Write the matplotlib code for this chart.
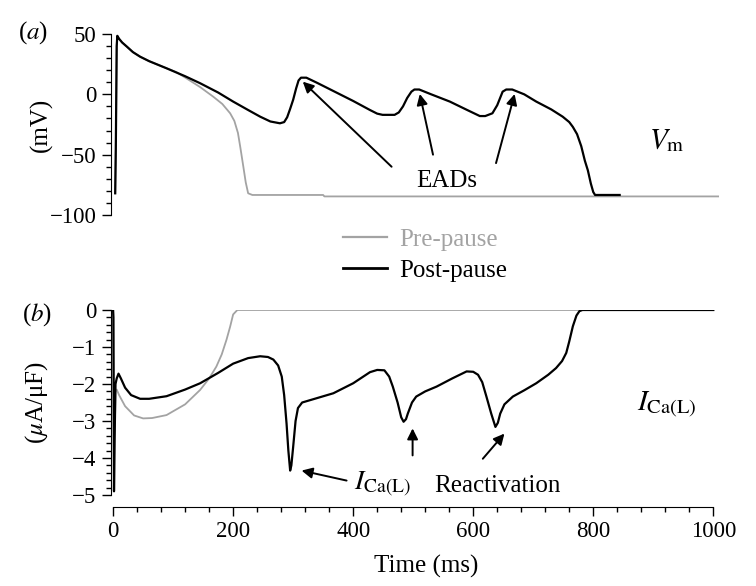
import matplotlib
matplotlib.use("Agg")
import matplotlib.pyplot as plt
from matplotlib.ticker import MultipleLocator
from matplotlib.lines import Line2D

plt.rcParams['font.family'] = ['Liberation Serif', 'DejaVu Serif']
plt.rcParams['mathtext.fontset'] = 'stix'

# membrane potential (mV)
t_vm_post = [3.5, 4.5, 6, 7, 10, 15, 23, 33, 45, 60, 89, 120, 145, 175, 200, 225, 245,
             262, 278, 285, 290, 295, 300, 305, 309, 313, 322, 340, 370, 400, 428, 440,
             449, 469, 476, 483, 490, 497, 502, 510, 530, 561, 590, 611, 620, 632, 640,
             649, 655, 665, 685, 705, 730, 749, 760, 766, 773, 780, 786, 791, 796, 800,
             803, 844]
vm_post = [-82, -45, 40, 48.5, 46, 43, 39.5, 35, 31.2, 27.5, 21.6, 15, 9.2, 1.5, -6, -13,
           -18.5, -22.5, -24, -23, -19, -12, -4.5, 5, 11.5, 13.8, 13.8, 9.5, 2, -5.5, -13,
           -16, -17, -17, -15, -10, -3, 2.2, 4, 4, 0, -6, -13, -18, -18, -15.7, -9, 2.2, 4,
           4, 0, -6, -12.5, -18.5, -23, -27, -33, -43, -55, -63, -74, -81, -83.4, -83.4]

t_vm_pre = [3.5, 4.5, 6, 7, 10, 15, 23, 33, 45, 60, 89, 105, 122, 145, 167, 182, 195,
            202, 208, 212, 217, 221, 225, 232, 350, 352, 1008]
vm_pre = [-82, -45, 40, 48.5, 46, 43, 39.5, 35, 31.2, 27.5, 21.6, 18.5, 13.3, 6, -2, -8,
          -15.7, -22, -32, -44, -60, -73, -82, -83.4, -83.4, -84.6, -84.6]

# L-type Ca current (uA/uF)
t_ica_post = [0, 0.5, 1.5, 2.5, 4, 6, 9, 13, 20, 30, 45, 60, 89, 120, 145, 175, 200, 225,
              245, 258, 267, 275, 281, 285, 289, 292, 295, 297, 300, 304, 308, 315, 340,
              367, 400, 428, 440, 452, 460, 466, 474, 480, 484, 488, 491, 498, 505, 520,
              539, 565, 589, 600, 608, 615, 622, 630, 637, 641, 645, 652, 666, 685, 705,
              725, 738, 748, 755, 760, 766, 772, 777, 782, 1000]
ica_post = [0, -0.2, -4.9, -3.5, -2.0, -1.85, -1.72, -1.85, -2.1, -2.3, -2.4, -2.4, -2.33,
            -2.15, -1.98, -1.7, -1.45, -1.3, -1.25, -1.27, -1.34, -1.5, -1.8, -2.3, -3.07,
            -3.8, -4.34, -4.2, -3.7, -3.0, -2.65, -2.5, -2.38, -2.25, -1.98, -1.68, -1.62,
            -1.63, -1.8, -2.07, -2.5, -2.9, -3.02, -2.95, -2.8, -2.5, -2.34, -2.2, -2.07,
            -1.85, -1.66, -1.67, -1.75, -1.95, -2.34, -2.8, -3.16, -3.05, -2.8, -2.55,
            -2.34, -2.17, -1.98, -1.75, -1.57, -1.38, -1.16, -0.85, -0.44, -0.15, -0.03,
            0, 0]

t_ica_pre = [0, 0.5, 1.5, 2.5, 4, 6, 10, 20, 35, 50, 65, 89, 120, 145, 160, 172, 181, 189,
             195, 200, 207, 1000]
ica_pre = [0, -0.2, -4.9, -3.5, -2.2, -2.15, -2.3, -2.6, -2.85, -2.93, -2.92, -2.84, -2.55,
           -2.16, -1.85, -1.53, -1.2, -0.8, -0.45, -0.12, 0, 0]

gray = '#a3a3a3'
W, H = 756, 586

fig = plt.figure(figsize=(7.56, 5.86), dpi=100)
left = 111 / W
width = (720.5 - 111) / W
ax1 = fig.add_axes([left, 1 - 215 / H, width, (215 - 34) / H])
ax2 = fig.add_axes([left, 1 - 495 / H, width, (495 - 310) / H])

# panel a
ax1.plot(t_vm_pre, vm_pre, color=gray, lw=1.3, clip_on=False)
ax1.plot(t_vm_post, vm_post, color='k', lw=1.6, clip_on=False)
ax1.set_xlim(-3.5, 1012)
ax1.set_ylim(-100, 50)
for s in ['top', 'right', 'bottom']:
    ax1.spines[s].set_visible(False)
ax1.set_xticks([])
ax1.yaxis.set_major_locator(MultipleLocator(50))
ax1.yaxis.set_minor_locator(MultipleLocator(10))
ax1.tick_params(axis='y', which='major', length=6.5, width=1, pad=4, labelsize=16.5)
ax1.tick_params(axis='y', which='minor', length=3.6, width=1)

arrow = dict(arrowstyle='-|>', mutation_scale=16, lw=1.4, color='k', shrinkA=0, shrinkB=0)
ax1.annotate('', xy=(316, 10.5), xytext=(464, -60), arrowprops=arrow)
ax1.annotate('', xy=(511, 0.3), xytext=(533, -50), arrowprops=arrow)
ax1.annotate('', xy=(669, 0.3), xytext=(638, -57), arrowprops=arrow)
ax1.text(556, -72, 'EADs', fontsize=18, ha='center', va='center')
ax1.text(922, -38.6, r'$V_{\mathrm{m}}$', fontsize=21, ha='center', va='center')

# panel b
ax2.plot(t_ica_pre, ica_pre, color=gray, lw=1.3)
ax2.plot(t_ica_post, ica_post, color='k', lw=1.6)
ax2.set_xlim(-3.5, 1012)
ax2.set_ylim(-5, 0)
for s in ['top', 'right']:
    ax2.spines[s].set_visible(False)
ax2.spines['bottom'].set_position(('outward', 8.3))
ax2.spines['bottom'].set_bounds(0, 1000)
ax2.xaxis.set_major_locator(MultipleLocator(200))
ax2.xaxis.set_minor_locator(MultipleLocator(40))
ax2.yaxis.set_major_locator(MultipleLocator(1))
ax2.yaxis.set_minor_locator(MultipleLocator(0.2))
ax2.tick_params(which='major', length=6.5, width=1, pad=4, labelsize=16.5)
ax2.tick_params(which='minor', length=3.6, width=1)

ax2.annotate('', xy=(314, -4.34), xytext=(389, -4.61), arrowprops=arrow)
ax2.annotate('', xy=(499, -3.2), xytext=(499, -3.93), arrowprops=arrow)
ax2.annotate('', xy=(652, -3.34), xytext=(616, -4.02), arrowprops=arrow)
ax2.text(449, -4.72, r'$I_{\mathrm{Ca(L)}}$', fontsize=20, ha='center', va='center')
ax2.text(640, -4.75, 'Reactivation', fontsize=18, ha='center', va='center')
ax2.text(922, -2.57, r'$I_{\mathrm{Ca(L)}}$', fontsize=21, ha='center', va='center')

# labels
fig.text(33 / W, 1 - 33 / H, '($a$)', fontsize=18, ha='center', va='center')
fig.text(37 / W, 1 - 315 / H, '($b$)', fontsize=18, ha='center', va='center')
fig.text(41 / W, 1 - 125 / H, '(mV)', fontsize=18, rotation=90, ha='center', va='center')
fig.text(37 / W, 1 - 402 / H, r'($\mu$A/μF)', fontsize=18, rotation=90,
         ha='center', va='center')
fig.text(426 / W, 1 - 566 / H, 'Time (ms)', fontsize=18, ha='center', va='center')

handles = [Line2D([], [], color=gray, lw=1.6), Line2D([], [], color='k', lw=2)]
fig.legend(handles, ['Pre-pause', 'Post-pause'], loc='center left',
           bbox_to_anchor=(343 / W, 1 - 255 / H), frameon=False, fontsize=18,
           handlelength=1.75, handletextpad=0.5, labelspacing=0.35,
           borderpad=0, borderaxespad=0, labelcolor=[gray, 'k'])

fig.savefig('out.png', dpi=100)
